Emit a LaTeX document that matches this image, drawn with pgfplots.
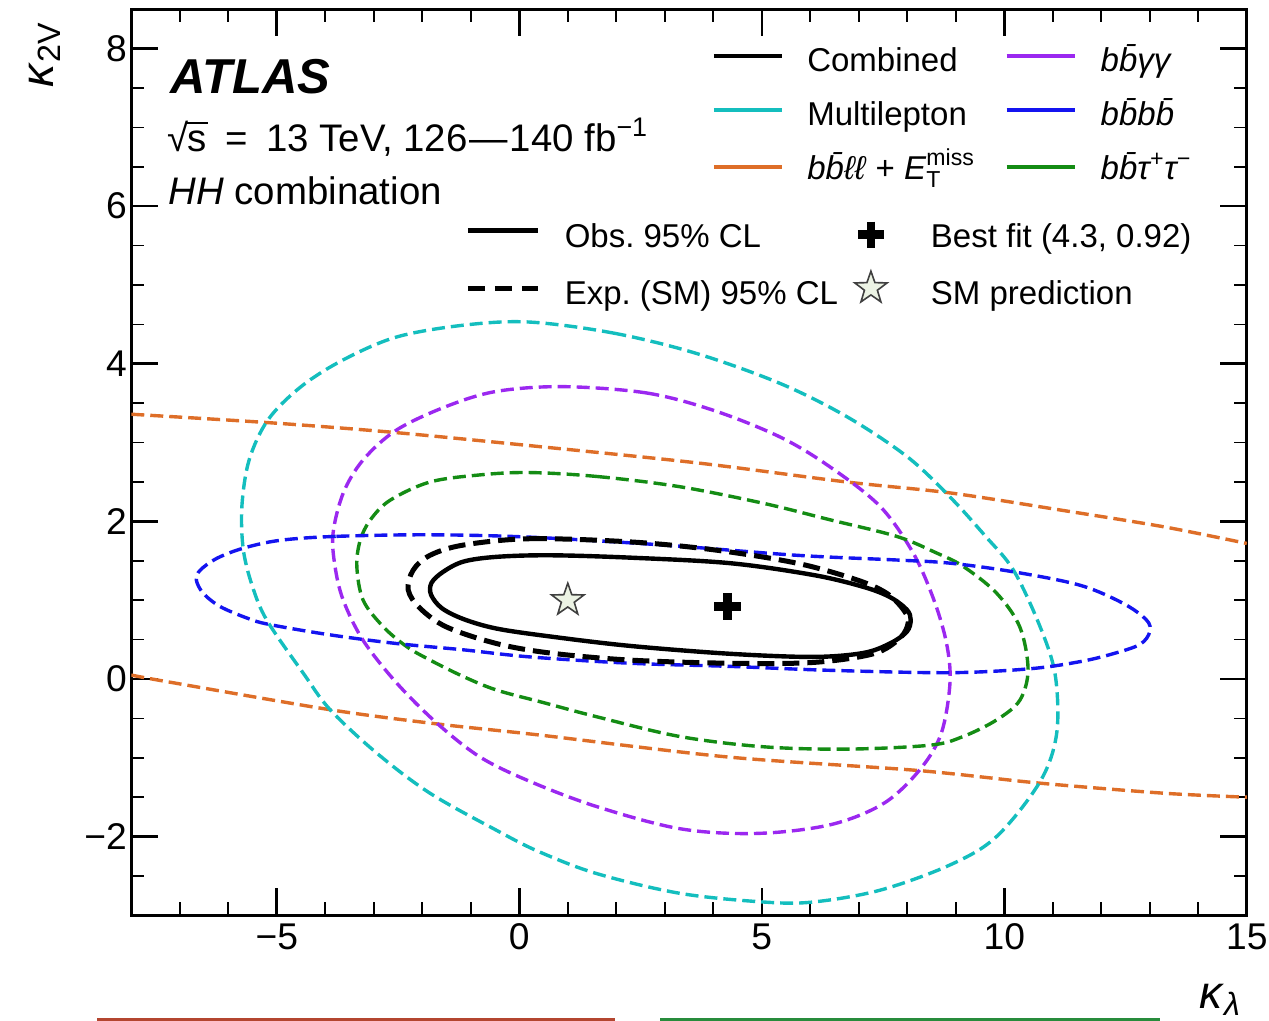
\documentclass[border=0pt]{standalone}
\usepackage{fontspec}
\setmainfont{Liberation Sans}
\usepackage{amsmath}
\usepackage{pgfplots}
\pgfplotsset{compat=1.18}
\frenchspacing

\definecolor{mlcyan}{RGB}{20,190,190}
\definecolor{ggpurple}{RGB}{155,40,240}
\definecolor{bbblue}{RGB}{20,20,240}
\definecolor{llorange}{RGB}{222,110,40}
\definecolor{ttgreen}{RGB}{20,140,20}
\definecolor{smstar}{RGB}{236,243,228}

% filled five-pointed star
\pgfdeclareplotmark{fstar}{%
  \pgfpathmoveto{\pgfpointpolar{90}{\pgfplotmarksize}}%
  \pgfpathlineto{\pgfpointpolar{126}{0.4\pgfplotmarksize}}%
  \pgfpathlineto{\pgfpointpolar{162}{\pgfplotmarksize}}%
  \pgfpathlineto{\pgfpointpolar{198}{0.4\pgfplotmarksize}}%
  \pgfpathlineto{\pgfpointpolar{234}{\pgfplotmarksize}}%
  \pgfpathlineto{\pgfpointpolar{270}{0.4\pgfplotmarksize}}%
  \pgfpathlineto{\pgfpointpolar{306}{\pgfplotmarksize}}%
  \pgfpathlineto{\pgfpointpolar{342}{0.4\pgfplotmarksize}}%
  \pgfpathlineto{\pgfpointpolar{18}{\pgfplotmarksize}}%
  \pgfpathlineto{\pgfpointpolar{54}{0.4\pgfplotmarksize}}%
  \pgfpathclose
  \pgfusepathqfillstroke
}

\newcommand{\legfont}{\fontsize{16.5pt}{18pt}\selectfont}
\newcommand{\hdrfont}{\fontsize{19.2pt}{21pt}\selectfont}

\pgfplotsset{
  chan/.style={line width=1.7pt, dash pattern=on 6.5pt off 3pt, smooth cycle, tension=0.55},
}

\begin{document}
\begin{tikzpicture}
\path[use as bounding box] (-65.65pt,-52.8pt) rectangle (568.85pt,457.7pt);
\begin{axis}[
  at={(0,0)}, anchor=south west,
  scale only axis, width=557.75pt, height=453.1pt,
  xmin=-8, xmax=15, ymin=-3, ymax=8.5,
  xtick={-5,0,5,10,15}, xticklabels={−5,0,5,10,15},
  ytick={-2,0,2,4,6,8}, yticklabels={−2,0,2,4,6,8},
  minor xtick={-8,...,15},
  minor ytick={-3,-2.5,...,8.5},
  tick align=inside,
  major tick length=13.5pt, minor tick length=6.5pt,
  every tick/.style={black, line width=1.3pt},
  every minor tick/.style={black, line width=0.85pt},
  axis line style={line width=1.35pt},
  tick label style={font=\fontsize{18.6pt}{20pt}\selectfont},
  xticklabel style={inner sep=0pt, yshift=-4pt},
  yticklabel style={inner sep=0pt, xshift=-2pt},
  clip mode=individual,
]

% bbll + ETmiss: open band, upper and lower edges
\addplot[llorange, line width=1.7pt, dash pattern=on 6.5pt off 3pt, smooth] coordinates {
 (-8,3.36) (-5.1,3.25) (-2.6,3.13) (0.4,2.95) (3.7,2.74) (6.75,2.50) (8.9,2.36) (11.2,2.14) (13.3,1.93) (15,1.72)};
\addplot[llorange, line width=1.7pt, dash pattern=on 6.5pt off 3pt, smooth] coordinates {
 (-8,0.05) (-7.3,-0.03) (-3.9,-0.39) (-1.7,-0.57) (0.4,-0.71) (4.3,-0.99) (8.2,-1.16) (10.7,-1.32) (13.3,-1.45) (15,-1.50)};

% Multilepton
\addplot[mlcyan, chan] coordinates {
 (0.2,4.53) (1.94,4.39) (3.66,4.13) (5.38,3.75) (6.75,3.33) (8.0,2.82) (8.88,2.31) (9.6,1.82)
 (10.19,1.38) (10.74,0.66) (11.05,0.05) (11.08,-0.69) (10.74,-1.30) (9.84,-2.00) (8.88,-2.36)
 (7.44,-2.68) (6.06,-2.83) (5.03,-2.83) (3.31,-2.72) (1.60,-2.47) (0.40,-2.19) (-0.47,-1.92)
 (-1.84,-1.45) (-2.94,-0.94) (-3.90,-0.39) (-4.45,0.07) (-5.2,0.74) (-5.5,1.17) (-5.69,1.64)
 (-5.72,2.19) (-5.57,2.78) (-5.18,3.29) (-4.50,3.71) (-3.63,4.05) (-2.53,4.34) (-1.15,4.49)};

% bbyy
\addplot[ggpurple, chan] coordinates {
 (0.9,3.71) (2.62,3.63) (4.0,3.41) (5.38,3.07) (6.41,2.69) (7.44,2.19) (8.12,1.60) (8.55,1.0)
 (8.81,0.45) (8.88,-0.05) (8.70,-0.69) (8.26,-1.15) (7.51,-1.58) (6.41,-1.85) (4.89,-1.96)
 (3.31,-1.90) (1.60,-1.62) (0.22,-1.30) (-0.81,-0.99) (-1.70,-0.56) (-2.53,-0.05) (-3.22,0.49)
 (-3.63,1.00) (-3.80,1.43) (-3.84,1.85) (-3.63,2.36) (-3.22,2.78) (-2.53,3.16) (-1.50,3.46) (-0.47,3.65)};

% bbtautau
\addplot[ttgreen, chan] coordinates {
 (0.2,2.62) (1.60,2.57) (3.31,2.44) (5.03,2.23) (6.41,2.02) (7.78,1.81) (8.6,1.60) (9.15,1.43)
 (9.84,1.09) (10.32,0.66) (10.49,0.12) (10.32,-0.27) (9.84,-0.52) (9.15,-0.73) (8.47,-0.84)
 (6.75,-0.89) (5.03,-0.86) (3.31,-0.73) (1.60,-0.48) (0.50,-0.30) (-0.47,-0.14) (-1.15,0.03)
 (-1.84,0.24) (-2.32,0.41) (-2.80,0.66) (-3.22,1.00) (-3.35,1.43) (-3.28,1.76) (-3.07,2.02)
 (-2.66,2.27) (-1.84,2.50) (-0.81,2.59)};

% bbbb
\addplot[bbblue, chan] coordinates {
 (-4.93,1.76) (-3.77,1.81) (-1.84,1.83) (0.22,1.80) (2.97,1.70) (5.72,1.57) (7.78,1.51) (8.88,1.47)
 (10.19,1.36) (11.56,1.19) (12.45,0.96) (12.93,0.75) (13.0,0.60) (12.80,0.44) (12.24,0.32)
 (11.56,0.22) (10.53,0.13) (8.88,0.08) (6.41,0.11) (4.34,0.16) (2.28,0.20) (0.22,0.28)
 (-1.15,0.37) (-2.53,0.45) (-3.90,0.56) (-5.14,0.69) (-5.6,0.77) (-6.17,0.92) (-6.52,1.09)
 (-6.66,1.26) (-6.58,1.38) (-6.24,1.53) (-5.69,1.66)};

% Combined, expected (SM)
\addplot[black, line width=2.5pt, dash pattern=on 8.5pt off 4pt, smooth cycle, tension=0.55] coordinates {
 (-1.15,1.70) (0.22,1.78) (2.28,1.74) (4.0,1.64) (5.72,1.47) (6.95,1.26) (7.57,1.09) (7.92,0.88)
 (8.02,0.72) (7.85,0.52) (7.3,0.32) (6.06,0.21) (4.34,0.20) (2.28,0.24) (0.63,0.33) (-0.47,0.45)
 (-1.50,0.66) (-2.05,0.90) (-2.29,1.13) (-2.19,1.38) (-1.84,1.57)};

% Combined, observed
\addplot[black, line width=2.2pt, smooth cycle, tension=0.55] coordinates {
 (-1.15,1.49) (-0.47,1.55) (0.63,1.57) (2.28,1.54) (4.34,1.47) (6.06,1.32) (7.09,1.17) (7.64,1.04)
 (7.99,0.88) (8.07,0.75) (7.99,0.60) (7.64,0.45) (7.09,0.33) (6.06,0.28) (4.34,0.32) (2.28,0.42)
 (0.63,0.54) (-0.47,0.64) (-1.15,0.76) (-1.60,0.90) (-1.82,1.07) (-1.81,1.22) (-1.57,1.36)};

% SM prediction and best fit
\addplot[only marks, mark=fstar, mark size=8.5pt, mark options={fill=smstar, draw=black!75, line width=0.8pt}] coordinates {(1,1)};
\addplot[only marks, mark=+, mark size=6.75pt, mark options={black, line width=4.6pt}] coordinates {(4.3,0.92)};

% legend, upper block
\draw[black, line width=2pt] (axis cs:4.01,7.91) -- (axis cs:5.42,7.91);
\draw[mlcyan, line width=2pt] (axis cs:4.01,7.22) -- (axis cs:5.42,7.22);
\draw[llorange, line width=2pt] (axis cs:4.01,6.50) -- (axis cs:5.42,6.50);
\draw[ggpurple, line width=2pt] (axis cs:10.05,7.91) -- (axis cs:11.45,7.91);
\draw[bbblue, line width=2pt] (axis cs:10.05,7.22) -- (axis cs:11.45,7.22);
\draw[ttgreen, line width=2pt] (axis cs:10.05,6.50) -- (axis cs:11.45,6.50);
\node[anchor=base west, inner sep=0pt, font=\legfont] at (axis cs:5.93,7.71) {Combined};
\node[anchor=base west, inner sep=0pt, font=\legfont] at (axis cs:5.93,7.02) {Multilepton};
\node[anchor=base west, inner sep=0pt, font=\legfont] at (axis cs:5.93,6.34) {\textit{b\=bℓℓ} + $\text{\textit{E}}^{\text{miss}}_{\text{T}}$};
\node[anchor=base west, inner sep=0pt, font=\legfont] at (axis cs:11.98,7.71) {\textit{b\=bγγ}};
\node[anchor=base west, inner sep=0pt, font=\legfont] at (axis cs:11.98,7.02) {\textit{b\=bb\=b}};
\node[anchor=base west, inner sep=0pt, font=\legfont] at (axis cs:11.98,6.34) {\textit{b\=bτ\textsuperscript{+}τ\textsuperscript{−}}};

% legend, lower block
\draw[black, line width=2.2pt] (axis cs:-1.06,5.69) -- (axis cs:0.38,5.69);
\draw[black, line width=2.5pt, dash pattern=on 8.5pt off 5pt] (axis cs:-1.06,4.95) -- (axis cs:0.38,4.95);
\addplot[only marks, mark=+, mark size=6.5pt, mark options={black, line width=4.4pt}] coordinates {(7.25,5.64)};
\addplot[only marks, mark=fstar, mark size=8.5pt, mark options={fill=smstar, draw=black!75, line width=0.8pt}] coordinates {(7.25,4.96)};
\node[anchor=base west, inner sep=0pt, font=\legfont] at (axis cs:0.93,5.47) {Obs. 95\% CL};
\node[anchor=base west, inner sep=0pt, font=\legfont] at (axis cs:0.93,4.75) {Exp. (SM) 95\% CL};
\node[anchor=base west, inner sep=0pt, font=\legfont] at (axis cs:8.48,5.47) {Best fit (4.3, 0.92)};
\node[anchor=base west, inner sep=0pt, font=\legfont] at (axis cs:8.48,4.75) {SM prediction};

% experiment label
\node[anchor=base west, inner sep=0pt, font={\fontsize{24.5pt}{26pt}\selectfont\bfseries\itshape}] at (axis cs:-7.20,7.43) {ATLAS};
\node[anchor=base west, inner sep=0pt, font=\hdrfont] at (axis cs:-7.27,6.69) {√\kern-0.04em\rlap{\rule[0.72em]{0.56em}{0.055em}}\kern0.03em s\hspace{0.2em} =\hspace{0.2em} 13 TeV, 126\hspace{0.05em}—\hspace{0.05em}140 fb\textsuperscript{−1}};
\node[anchor=base west, inner sep=0pt, font=\hdrfont] at (axis cs:-7.24,6.02) {\textit{HH} combination};

% axis titles
\node[rotate=90, font=\fontsize{23pt}{24pt}\selectfont] at (axis cs:-9.78,7.92) {$\text{\textit{κ}}_{\text{2V}}$};
\node[font=\fontsize{23pt}{24pt}\selectfont] at (axis cs:14.45,-4.07) {$\text{\textit{κ}}_{\text{\textit{λ}}}$};
\end{axis}
% underline rules below the figure
\draw[line width=1.5pt, color={rgb,255:red,180;green,70;blue,48}] (-17.15pt,-52.05pt) -- (241.85pt,-52.05pt);
\draw[line width=1.5pt, color={rgb,255:red,40;green,140;blue,60}] (264.35pt,-52.05pt) -- (514.35pt,-52.05pt);
\end{tikzpicture}
\end{document}
